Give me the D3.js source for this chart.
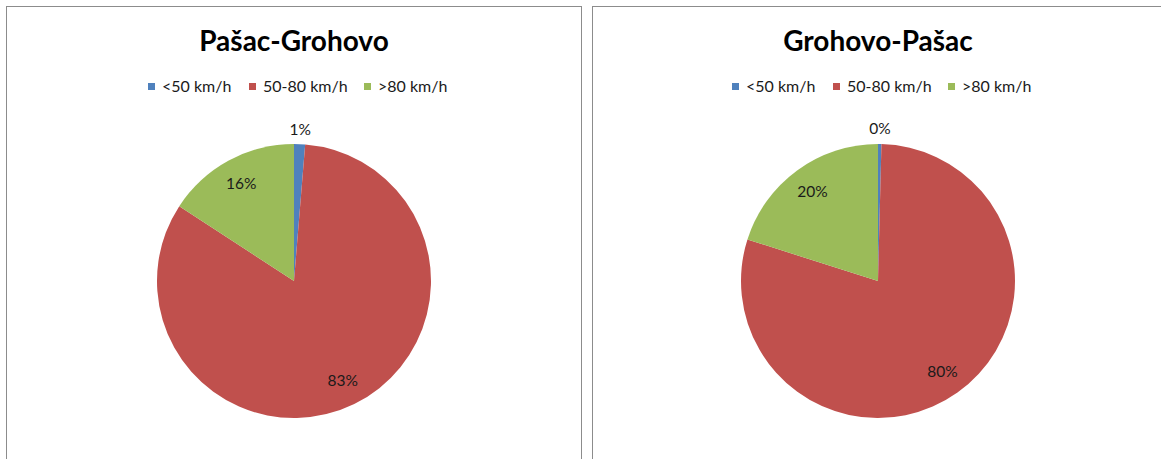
<!DOCTYPE html>
<html>
<head>
<meta charset="utf-8">
<script src="https://cdn.jsdelivr.net/npm/d3@7"></script>
<style>
  html, body { margin: 0; padding: 0; background: #fff; }
  svg { display: block; }
  text { font-family: Lato, "Open Sans", sans-serif; }
</style>
</head>
<body>
<svg id="chart" width="1161" height="459"></svg>
<script>
// ---- data ----
const categories = ["<50 km/h", "50-80 km/h", ">80 km/h"];
const colors = ["#4F81BD", "#C0504D", "#9BBB59"];
const titles = ["Pašac-Grohovo", "Grohovo-Pašac"];
const valuesPasacGrohovo = [1.3, 82.9, 15.8];
const valuesGrohovoPasac = [0.4, 79.5, 20.1];
const seriesValues = [valuesPasacGrohovo, valuesGrohovoPasac];

// ---- layout ----
const svg = d3.select("#chart");
const panels = [
  { x: 6.5, y: 6.5, w: 575, h: 470, cx: 294, cy: 281 },
  { x: 592.5, y: 6.5, w: 600, h: 470, cx: 878, cy: 281 }
];
const R = 137;

const legendOffsets = [
  { sq: -146, tx: -132 },
  { sq: -45, tx: -31 },
  { sq: 70, tx: 84 }
];

panels.forEach((p, i) => {
  const g = svg.append("g");
  g.append("rect")
    .attr("x", p.x).attr("y", p.y)
    .attr("width", p.w).attr("height", p.h)
    .attr("fill", "#fff")
    .attr("stroke", "#8c8c8c").attr("stroke-width", 1);

  g.append("text")
    .attr("x", p.cx).attr("y", 51)
    .attr("text-anchor", "middle")
    .attr("font-size", 28).attr("font-weight", "bold")
    .attr("fill", "#000")
    .text(titles[i]);

  // legend
  const lg = g.append("g").attr("transform", `translate(${p.cx},87)`);
  categories.forEach((c, k) => {
    lg.append("rect")
      .attr("x", legendOffsets[k].sq).attr("y", -4)
      .attr("width", 7).attr("height", 7)
      .attr("fill", colors[k]);
    lg.append("text")
      .attr("x", legendOffsets[k].tx).attr("y", 5)
      .attr("font-size", 16).attr("fill", "#1a1a1a")
      .text(c);
  });

  // pie
  const pie = d3.pie().sort(null).value(d => d);
  const arcs = pie(seriesValues[i]);
  const arc = d3.arc().innerRadius(0).outerRadius(R);
  const labelArc = d3.arc().innerRadius(R * 0.81).outerRadius(R * 0.81);
  const outerArc = d3.arc().innerRadius(R + 15).outerRadius(R + 15);
  const total = d3.sum(seriesValues[i]);

  const pg = g.append("g").attr("transform", `translate(${p.cx},${p.cy})`);
  pg.selectAll("path").data(arcs).join("path")
    .attr("d", arc)
    .attr("fill", (d, k) => colors[k]);

  pg.selectAll("text.lbl").data(arcs).join("text")
    .attr("class", "lbl")
    .attr("transform", d => {
      const pct = d.data / total * 100;
      const c = pct < 5 ? outerArc.centroid(d) : labelArc.centroid(d);
      return `translate(${c[0]},${c[1]})`;
    })
    .attr("text-anchor", "middle")
    .attr("dy", "0.35em")
    .attr("font-size", 15.5).attr("fill", "#1a1a1a")
    .text(d => Math.round(d.data / total * 100) + "%");
});
</script>
</body>
</html>
